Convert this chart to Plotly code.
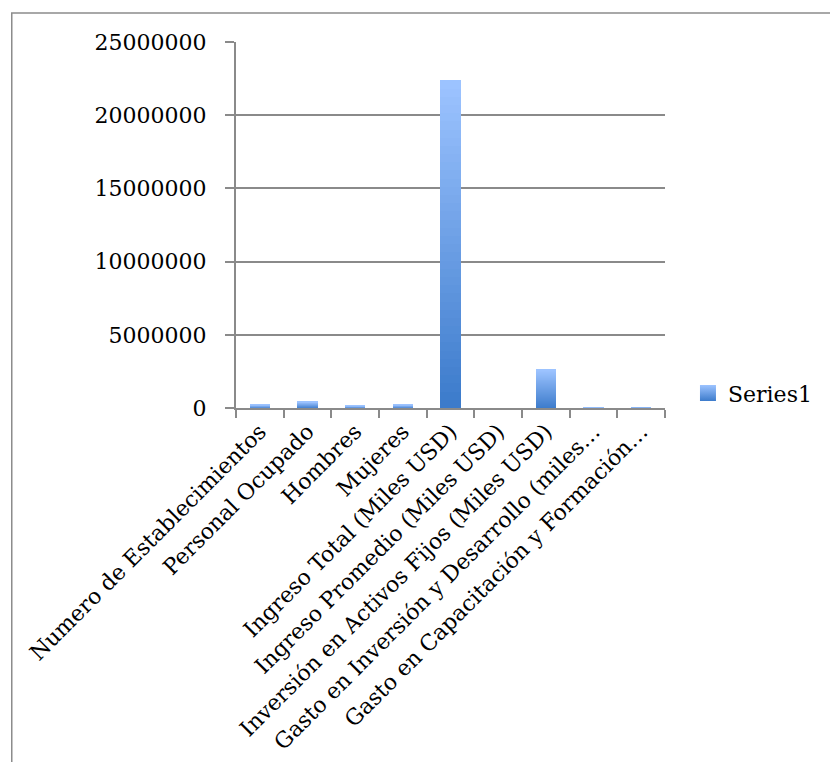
import plotly.graph_objects as go

categories = [
    "Numero de Establecimientos",
    "Personal Ocupado",
    "Hombres",
    "Mujeres",
    "Ingreso Total (Miles USD)",
    "Ingreso Promedio (Miles USD)",
    "Inversión en Activos Fijos (Miles USD)",
    "Gasto en Inversión y Desarrollo (miles…",
    "Gasto en Capacitación y Formación…",
]
values = [225000, 430000, 157000, 225000, 22380000, 90, 2640000, 5000, 3000]
series_name = "Series1"

tick_vals = [0, 5000000, 10000000, 15000000, 20000000, 25000000]

# plot-area geometry in pixels (for the outer frame shape only)
PL, PR, PT, PB = 235.5, 665, 41.7, 407.7
PW, PH = PR - PL, PB - PT

N = 40
bottom = (0x3C, 0x7B, 0xCB)
top = (0x9C, 0xC3, 0xFF)

fig = go.Figure()
for i in range(N):
    t = i / (N - 1)
    c = tuple(round(bottom[k] + (top[k] - bottom[k]) * t) for k in range(3))
    fig.add_trace(go.Bar(
        x=categories,
        y=[v / N for v in values],
        marker=dict(color="rgb(%d,%d,%d)" % c, line=dict(width=0)),
        name=series_name,
        showlegend=False,
        hoverinfo="skip",
    ))

# legend entry
fig.add_trace(go.Scatter(
    x=[None], y=[None], mode="markers", name=series_name,
    marker=dict(symbol="square", size=16, color="#9CC3FF",
                gradient=dict(type="vertical", color="#3C7BCB")),
    showlegend=True,
))

grid_color = "#8a8a8a"
FONT = "DejaVu Serif"
fig.update_layout(
    width=830, height=762,
    barmode="stack",
    bargap=0.57,
    plot_bgcolor="white",
    paper_bgcolor="white",
    margin=dict(l=PL, r=830 - PR, t=PT, b=762 - PB, autoexpand=False),
    font=dict(family=FONT, color="black"),
    showlegend=True,
    legend=dict(x=(688 - PL) / PW, y=(PB - 393) / PH, xanchor="left", yanchor="middle",
                font=dict(size=22, family=FONT, color="black"),
                bgcolor="rgba(0,0,0,0)", itemwidth=30),
    xaxis=dict(
        type="category",
        tickangle=-45,
        tickfont=dict(size=22, family=FONT, color="black"),
        showline=True, linecolor=grid_color, linewidth=2,
        ticks="outside", ticklen=8, tickcolor=grid_color, tickwidth=2,
        tickson="boundaries",
        showgrid=False,
        ticklabelstandoff=0,
    ),
    yaxis=dict(
        range=[0, 25000000],
        tickvals=tick_vals,
        ticktext=[str(v) for v in tick_vals],
        tickfont=dict(size=22, family=FONT, color="black"),
        showline=True, linecolor=grid_color, linewidth=2,
        ticks="outside", ticklen=9, tickcolor=grid_color, tickwidth=2,
        showgrid=True, gridcolor=grid_color, gridwidth=2,
        zeroline=False,
        ticklabelstandoff=14,
    ),
)

# outer chart frame
fig.add_shape(type="rect", xref="paper", yref="paper",
              x0=(11 - PL) / PW, x1=(900 - PL) / PW,
              y0=(PB - 800) / PH, y1=(PB - 12.7) / PH,
              line=dict(color="#8c8c8c", width=1.5), fillcolor="rgba(0,0,0,0)",
              layer="below")

fig.write_html("out.html")
